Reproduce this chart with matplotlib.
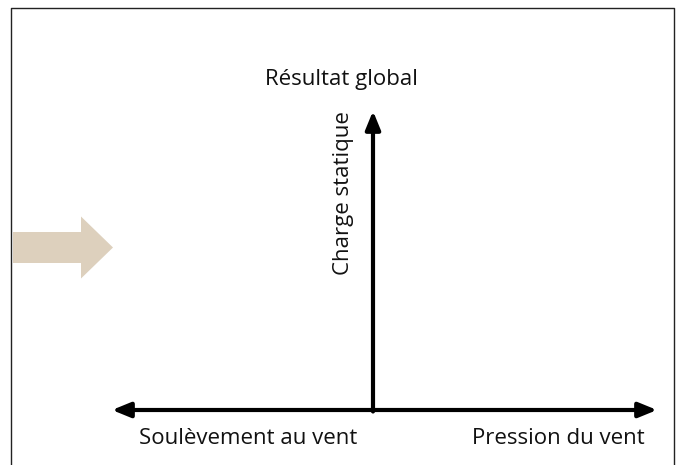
import matplotlib
matplotlib.use("Agg")
import matplotlib.pyplot as plt
from matplotlib.patches import FancyArrow

# Diagram content
axis_labels = ["Soulèvement au vent", "Pression du vent"]
vertical_label = "Charge statique"
title_label = "Résultat global"

plt.rcParams['font.family'] = ['Open Sans', 'DejaVu Sans']

fig = plt.figure(figsize=(6.85, 4.65), dpi=100)
ax = fig.add_axes([0, 0, 1, 1])
ax.set_xlim(0, 685)
ax.set_ylim(465, 0)
ax.axis('off')

# frame (open at bottom)
ax.plot([11, 11, 674, 674], [466, 8, 8, 466], color='#222222', lw=1.0)

# beige arrow
ax.add_patch(FancyArrow(13, 247.5, 100, 0, width=31, head_width=62, head_length=32,
                        length_includes_head=True, color='#DDD0BD', lw=0))

style = dict(arrowstyle='-|>,head_length=1.1,head_width=0.45', lw=3, color='black',
             shrinkA=0, shrinkB=0)
# horizontal double arrow
ax.annotate('', xy=(112, 410), xytext=(373, 410), arrowprops=style)
ax.annotate('', xy=(657, 410), xytext=(373, 410), arrowprops=style)
# vertical arrow
ax.annotate('', xy=(373, 111), xytext=(373, 411.5), arrowprops=style)

fs = 16
tc = '#111111'
ax.text(341, 80, title_label, ha='center', va='center', fontsize=fs, color=tc)
ax.text(344, 193, vertical_label, ha='center', va='center', rotation=90, fontsize=fs, color=tc)
ax.text(248, 438, axis_labels[0], ha='center', va='center', fontsize=fs, color=tc)
ax.text(645, 438, axis_labels[1], ha='right', va='center', fontsize=fs, color=tc)

fig.savefig('out.png', dpi=100)
